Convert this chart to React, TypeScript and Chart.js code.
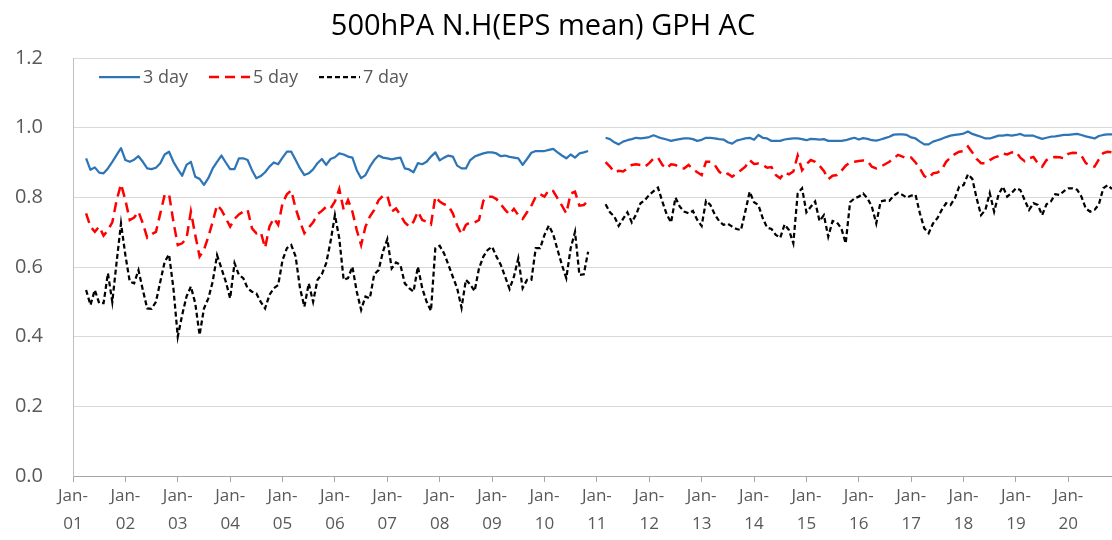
import React, { useEffect, useRef } from "react";
import { Chart, registerables } from "chart.js";

Chart.register(...registerables);

// ---------- data ----------
const yearLabels = ["01", "02", "03", "04", "05", "06", "07", "08", "09", "10", "11", "12", "13", "14", "15", "16", "17", "18", "19", "20"];
const monthNames = ["Jan", "Feb", "Mar", "Apr", "May", "Jun", "Jul", "Aug", "Sep", "Oct", "Nov", "Dec"];
const monthCount = 239; // Jan-01 .. Nov-20

const categories: string[] = [];
for (let i = 0; i < monthCount; i++) {
  categories.push(`${monthNames[i % 12]}-${yearLabels[Math.floor(i / 12)]}`);
}

const seriesNames = ["3 day", "5 day", "7 day"];

const day3: (number | null)[] = [
  null, null, null, 0.912, 0.879, 0.886, 0.871, 0.869, 0.883, 0.902, 0.922, 0.941,
  0.907, 0.902, 0.908, 0.918, 0.902, 0.883, 0.881, 0.885, 0.898, 0.923, 0.931, 0.902,
  0.881, 0.862, 0.893, 0.902, 0.859, 0.853, 0.836, 0.855, 0.883, 0.902, 0.920, 0.900,
  0.881, 0.881, 0.912, 0.912, 0.907, 0.878, 0.855, 0.861, 0.872, 0.888, 0.900, 0.895,
  0.914, 0.931, 0.931, 0.907, 0.883, 0.864, 0.869, 0.880, 0.898, 0.910, 0.893, 0.910,
  0.915, 0.926, 0.923, 0.917, 0.914, 0.878, 0.855, 0.864, 0.888, 0.907, 0.920, 0.914,
  0.912, 0.909, 0.912, 0.914, 0.883, 0.880, 0.872, 0.898, 0.895, 0.902, 0.917, 0.929,
  0.906, 0.914, 0.920, 0.917, 0.891, 0.883, 0.883, 0.907, 0.917, 0.922, 0.926, 0.929,
  0.929, 0.926, 0.918, 0.920, 0.916, 0.914, 0.912, 0.893, 0.910, 0.928, 0.933, 0.933,
  0.933, 0.936, 0.939, 0.929, 0.920, 0.912, 0.923, 0.914, 0.926, 0.929, 0.933, null,
  null, null, 0.971, 0.967, 0.958, 0.952, 0.960, 0.964, 0.967, 0.971, 0.969, 0.971,
  0.973, 0.978, 0.973, 0.969, 0.966, 0.962, 0.965, 0.967, 0.969, 0.969, 0.967, 0.962,
  0.965, 0.971, 0.971, 0.969, 0.967, 0.966, 0.958, 0.954, 0.963, 0.966, 0.969, 0.971,
  0.965, 0.979, 0.971, 0.969, 0.962, 0.962, 0.962, 0.966, 0.968, 0.969, 0.969, 0.967,
  0.964, 0.968, 0.967, 0.966, 0.967, 0.962, 0.962, 0.962, 0.962, 0.964, 0.968, 0.971,
  0.966, 0.970, 0.968, 0.964, 0.963, 0.966, 0.970, 0.974, 0.980, 0.981, 0.981, 0.979,
  0.972, 0.969, 0.960, 0.952, 0.952, 0.960, 0.964, 0.968, 0.973, 0.977, 0.979, 0.981,
  0.983, 0.989, 0.982, 0.978, 0.974, 0.969, 0.969, 0.973, 0.977, 0.977, 0.979, 0.977,
  0.979, 0.982, 0.977, 0.977, 0.977, 0.972, 0.968, 0.971, 0.974, 0.975, 0.977, 0.979,
  0.979, 0.981, 0.982, 0.979, 0.975, 0.972, 0.969, 0.976, 0.979, 0.981, 0.981,
];

const day5: (number | null)[] = [
  null, null, null, 0.754, 0.716, 0.701, 0.716, 0.690, 0.706, 0.728, 0.792, 0.838,
  0.792, 0.735, 0.742, 0.759, 0.725, 0.684, 0.694, 0.701, 0.754, 0.807, 0.809, 0.730,
  0.663, 0.668, 0.682, 0.759, 0.692, 0.630, 0.649, 0.687, 0.730, 0.778, 0.764, 0.740,
  0.716, 0.738, 0.751, 0.759, 0.764, 0.711, 0.697, 0.701, 0.655, 0.716, 0.740, 0.721,
  0.783, 0.809, 0.820, 0.768, 0.730, 0.697, 0.713, 0.728, 0.751, 0.761, 0.773, 0.768,
  0.788, 0.824, 0.764, 0.792, 0.759, 0.706, 0.663, 0.716, 0.745, 0.764, 0.792, 0.804,
  0.805, 0.759, 0.768, 0.749, 0.728, 0.716, 0.730, 0.759, 0.735, 0.730, 0.722, 0.802,
  0.788, 0.780, 0.776, 0.754, 0.719, 0.694, 0.721, 0.728, 0.728, 0.735, 0.790, 0.802,
  0.802, 0.795, 0.780, 0.764, 0.751, 0.767, 0.749, 0.738, 0.757, 0.776, 0.802, 0.809,
  0.802, 0.821, 0.818, 0.797, 0.776, 0.754, 0.811, 0.816, 0.776, 0.778, 0.790, null,
  null, null, 0.901, 0.888, 0.872, 0.876, 0.874, 0.883, 0.893, 0.895, 0.893, 0.888,
  0.898, 0.912, 0.914, 0.893, 0.883, 0.895, 0.893, 0.885, 0.883, 0.893, 0.881, 0.872,
  0.864, 0.902, 0.902, 0.893, 0.874, 0.864, 0.868, 0.859, 0.869, 0.878, 0.888, 0.907,
  0.896, 0.897, 0.893, 0.885, 0.887, 0.864, 0.855, 0.872, 0.866, 0.874, 0.920, 0.878,
  0.895, 0.907, 0.902, 0.891, 0.876, 0.852, 0.862, 0.864, 0.876, 0.891, 0.900, 0.902,
  0.904, 0.906, 0.904, 0.888, 0.883, 0.888, 0.895, 0.902, 0.912, 0.922, 0.917, 0.912,
  0.914, 0.900, 0.883, 0.861, 0.855, 0.869, 0.871, 0.879, 0.902, 0.914, 0.924, 0.931,
  0.933, 0.946, 0.929, 0.910, 0.898, 0.898, 0.907, 0.914, 0.918, 0.926, 0.923, 0.929,
  0.931, 0.914, 0.904, 0.912, 0.916, 0.898, 0.888, 0.907, 0.914, 0.916, 0.915, 0.912,
  0.925, 0.928, 0.927, 0.920, 0.898, 0.891, 0.888, 0.909, 0.927, 0.931, 0.929,
];

const day7: (number | null)[] = [
  null, null, null, 0.534, 0.491, 0.534, 0.496, 0.496, 0.582, 0.500, 0.615, 0.725,
  0.634, 0.558, 0.553, 0.591, 0.534, 0.481, 0.480, 0.500, 0.558, 0.615, 0.636, 0.539,
  0.400, 0.462, 0.515, 0.544, 0.496, 0.405, 0.481, 0.510, 0.558, 0.634, 0.596, 0.558,
  0.510, 0.611, 0.577, 0.568, 0.539, 0.529, 0.524, 0.500, 0.481, 0.520, 0.539, 0.548,
  0.620, 0.654, 0.663, 0.630, 0.539, 0.486, 0.553, 0.500, 0.563, 0.579, 0.611, 0.673,
  0.749, 0.682, 0.563, 0.568, 0.601, 0.529, 0.477, 0.515, 0.510, 0.579, 0.591, 0.644,
  0.680, 0.596, 0.613, 0.606, 0.553, 0.539, 0.529, 0.601, 0.539, 0.500, 0.474, 0.654,
  0.661, 0.639, 0.606, 0.572, 0.539, 0.483, 0.563, 0.550, 0.531, 0.596, 0.630, 0.649,
  0.658, 0.630, 0.606, 0.572, 0.537, 0.572, 0.625, 0.539, 0.563, 0.563, 0.654, 0.654,
  0.692, 0.719, 0.694, 0.649, 0.606, 0.568, 0.654, 0.701, 0.577, 0.579, 0.644, null,
  null, null, 0.780, 0.757, 0.745, 0.718, 0.738, 0.757, 0.728, 0.751, 0.783, 0.792,
  0.807, 0.818, 0.828, 0.788, 0.751, 0.728, 0.799, 0.773, 0.759, 0.754, 0.761, 0.735,
  0.718, 0.790, 0.778, 0.751, 0.732, 0.721, 0.724, 0.716, 0.709, 0.706, 0.759, 0.816,
  0.786, 0.778, 0.740, 0.713, 0.709, 0.692, 0.684, 0.722, 0.706, 0.668, 0.811, 0.826,
  0.757, 0.773, 0.788, 0.732, 0.749, 0.687, 0.732, 0.728, 0.711, 0.668, 0.786, 0.797,
  0.802, 0.811, 0.797, 0.773, 0.725, 0.788, 0.791, 0.790, 0.805, 0.813, 0.807, 0.799,
  0.805, 0.807, 0.754, 0.711, 0.697, 0.725, 0.740, 0.764, 0.783, 0.778, 0.797, 0.831,
  0.835, 0.866, 0.853, 0.797, 0.749, 0.764, 0.812, 0.759, 0.807, 0.831, 0.802, 0.812,
  0.826, 0.821, 0.792, 0.764, 0.783, 0.778, 0.749, 0.780, 0.788, 0.809, 0.807, 0.818,
  0.826, 0.826, 0.822, 0.802, 0.768, 0.759, 0.764, 0.780, 0.826, 0.835, 0.824,
];

const titleText = "500hPA N.H(EPS mean) GPH AC";

// ---------- styles ----------
const FONT = "'Open Sans', 'Noto Sans', sans-serif";
const TEXT_GREY = "#595959";

const insideLegend = {
  id: "insideLegend",
  afterDatasetsDraw(chart: any) {
    const { ctx, chartArea } = chart;
    ctx.save();
    ctx.font = `18px ${FONT}`;
    ctx.textBaseline = "middle";
    ctx.textAlign = "left";
    const y = chartArea.top + 19;
    let x = chartArea.left + 26;
    chart.data.datasets.forEach((ds: any) => {
      ctx.save();
      ctx.strokeStyle = ds.borderColor;
      ctx.lineWidth = ds.borderWidth;
      ctx.setLineDash(ds.borderDash || []);
      ctx.beginPath();
      ctx.moveTo(x, y);
      ctx.lineTo(x + 41, y);
      ctx.stroke();
      ctx.restore();
      ctx.fillStyle = TEXT_GREY;
      ctx.fillText(ds.label, x + 44, y + 1);
      x += 110;
    });
    ctx.restore();
  },
};

export default function App() {
  const canvasRef = useRef<HTMLCanvasElement | null>(null);

  useEffect(() => {
    if (!canvasRef.current) return;
    const chart = new Chart(canvasRef.current, {
      type: "line",
      data: {
        labels: categories,
        datasets: [
          {
            label: seriesNames[0],
            data: day3,
            borderColor: "#2E75B6",
            borderWidth: 2.25,
            borderJoinStyle: "round",
            pointRadius: 0,
            tension: 0,
            spanGaps: false,
          },
          {
            label: seriesNames[1],
            data: day5,
            borderColor: "#FF0000",
            borderWidth: 2.5,
            borderDash: [10, 6],
            pointRadius: 0,
            tension: 0,
            spanGaps: false,
          },
          {
            label: seriesNames[2],
            data: day7,
            borderColor: "#000000",
            borderWidth: 2.25,
            borderDash: [5, 3],
            pointRadius: 0,
            tension: 0,
            spanGaps: false,
          },
        ],
      },
      options: {
        responsive: false,
        animation: false,
        devicePixelRatio: 1,
        layout: { padding: { top: 58, right: 0, bottom: 0, left: 0 } },
        plugins: {
          legend: { display: false },
          title: { display: false },
          tooltip: { enabled: false },
        },
        scales: {
          x: {
            type: "category",
            offset: false,
            afterBuildTicks: (scale: any) => {
              scale.ticks = scale.ticks.filter((t: any) => t.value % 12 === 0);
            },
            afterFit: (scale: any) => {
              scale.height = 64;
            },
            grid: {
              drawOnChartArea: false,
              drawTicks: true,
              tickLength: 6,
              color: "#a6a6a6",
            },
            border: { display: true, color: "#a6a6a6" },
            ticks: {
              autoSkip: false,
              maxRotation: 0,
              minRotation: 0,
              padding: 1,
              color: TEXT_GREY,
              font: { family: FONT, size: 17, lineHeight: 1.6 },
              callback: (value: any) => {
                const lab = categories[Number(value)];
                const yy = lab.split("-")[1];
                return ["Jan-", yy];
              },
            },
          },
          y: {
            min: 0,
            max: 1.2,
            afterFit: (scale: any) => {
              scale.width = 73;
            },
            grid: { color: "#d9d9d9", drawTicks: false },
            border: { display: true, color: "#bfbfbf" },
            ticks: {
              stepSize: 0.2,
              padding: 30,
              color: TEXT_GREY,
              font: { family: FONT, size: 20 },
              callback: (value: any) => Number(value).toFixed(1),
            },
          },
        },
      },
      plugins: [insideLegend],
    });
    return () => chart.destroy();
  }, []);

  return (
    <div style={{ position: "fixed", left: 0, top: 0, width: 1112, height: 540, background: "#fff" }}>
      <div
        style={{
          position: "absolute",
          left: 0,
          top: 9,
          width: 1086,
          textAlign: "center",
          fontFamily: FONT,
          fontSize: 29,
          lineHeight: "29px",
          color: "#000",
        }}
      >
        {titleText}
      </div>
      <canvas ref={canvasRef} width={1112} height={540} style={{ display: "block" }} />
    </div>
  );
}
